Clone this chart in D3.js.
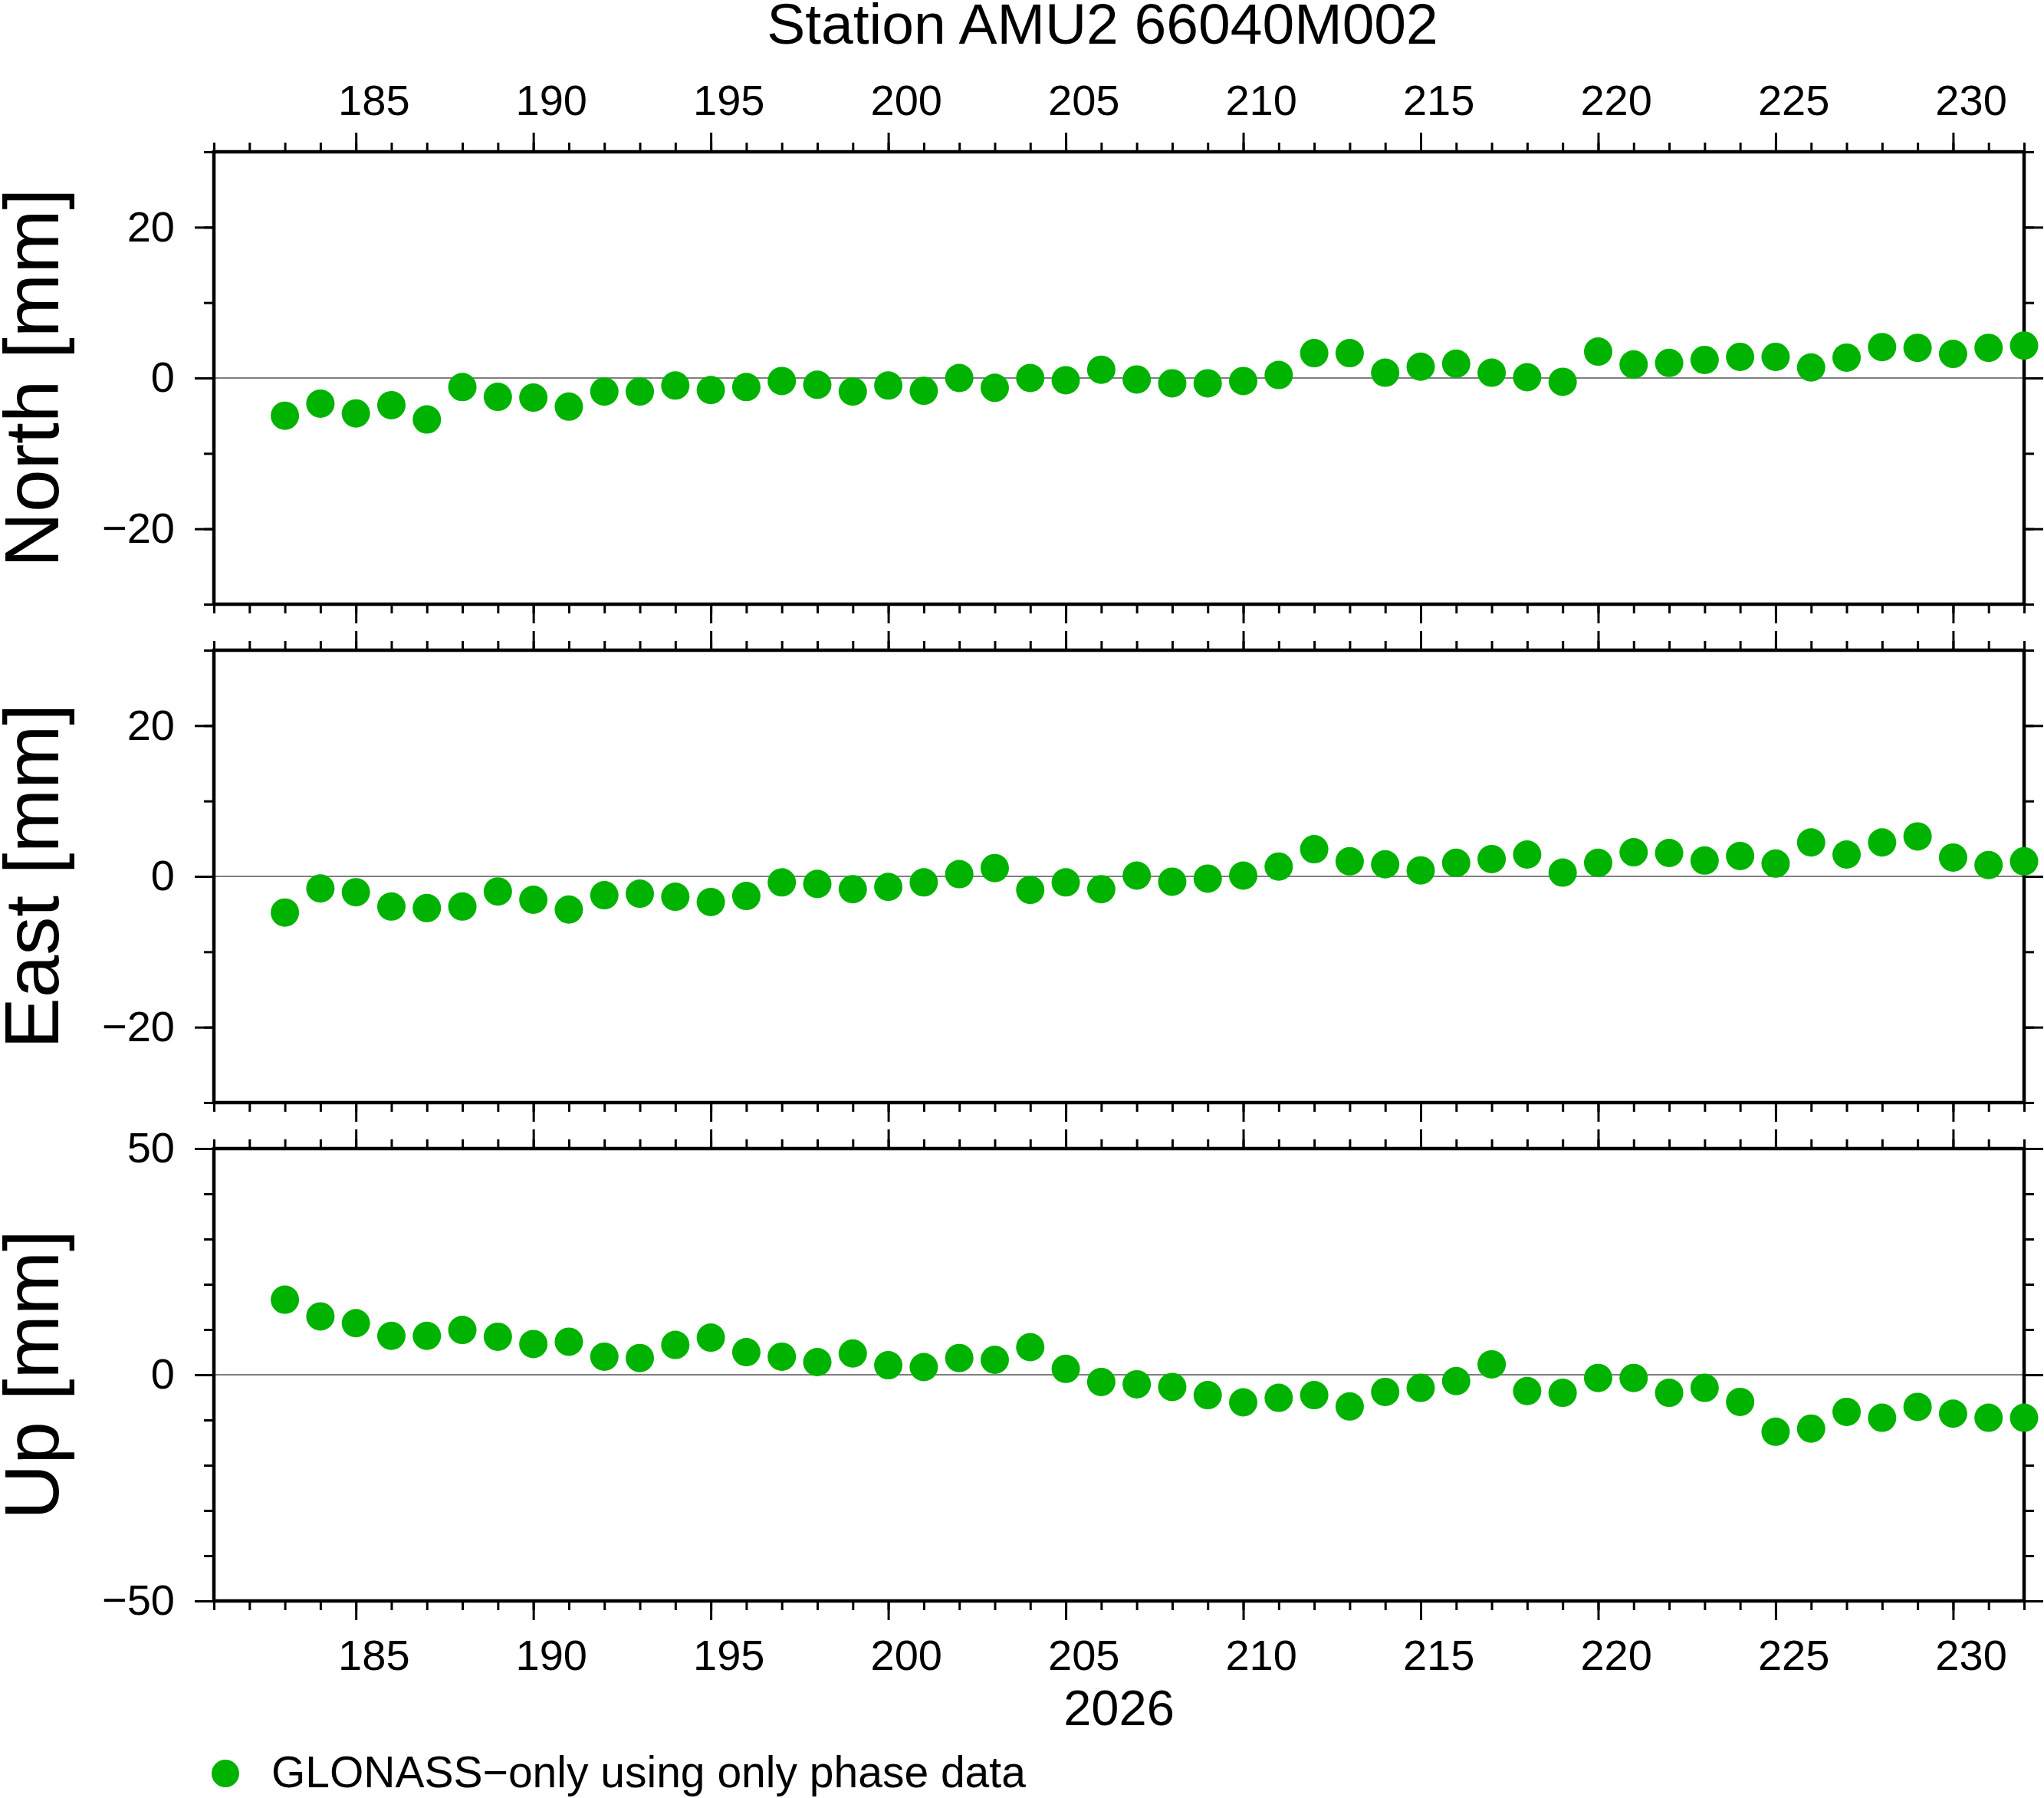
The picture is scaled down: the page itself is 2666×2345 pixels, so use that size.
<!DOCTYPE html>
<html>
<head>
<meta charset="utf-8">
<script src="https://d3js.org/d3.v7.min.js"></script>
<style>
  body { margin: 0; background: #fff; }
  svg { display: block; font-family: "Liberation Sans", Arial, Helvetica, sans-serif; }
  .axis path.domain { display: none; }
  .axis line { stroke: #000; stroke-width: 3px; }
  .axis text { font-size: 56px; fill: #000; font-family: "Liberation Sans", Arial, Helvetica, sans-serif; }
</style>
</head>
<body>
<div id="chart"></div>
<script>
// day of year 2026
var days = [183, 184, 185, 186, 187, 188, 189, 190, 191, 192,
            193, 194, 195, 196, 197, 198, 199, 200, 201, 202,
            203, 204, 205, 206, 207, 208, 209, 210, 211, 212,
            213, 214, 215, 216, 217, 218, 219, 220, 221, 222,
            223, 224, 225, 226, 227, 228, 229, 230, 231, 232];

// residuals in mm
var north = [-5.0, -3.4, -4.7, -3.6, -5.5, -1.2, -2.5, -2.6, -3.8, -1.8,
             -1.8, -1.0, -1.6, -1.2, -0.4, -0.9, -1.8, -1.0, -1.7, 0.0,
             -1.3, 0.0, -0.3, 1.1, -0.2, -0.7, -0.7, -0.4, 0.4, 3.3,
             3.3, 0.7, 1.5, 1.9, 0.7, 0.1, -0.5, 3.5, 1.8, 2.0,
             2.4, 2.8, 2.8, 1.4, 2.7, 4.1, 4.0, 3.2, 4.0, 4.3];

var east = [-4.8, -1.6, -2.1, -4.0, -4.2, -4.0, -2.0, -3.1, -4.4, -2.5,
            -2.3, -2.7, -3.4, -2.6, -0.8, -1.0, -1.7, -1.4, -0.8, 0.3,
            1.1, -1.8, -0.8, -1.7, 0.1, -0.7, -0.3, 0.1, 1.3, 3.6,
            2.0, 1.6, 0.8, 1.8, 2.3, 2.9, 0.5, 1.8, 3.2, 3.1,
            2.1, 2.7, 1.7, 4.5, 2.9, 4.5, 5.3, 2.5, 1.5, 2.0];

var up = [16.6, 12.9, 11.4, 8.6, 8.6, 9.9, 8.4, 6.8, 7.3, 4.0,
          3.7, 6.6, 8.2, 5.0, 4.0, 2.8, 4.7, 2.1, 1.7, 3.7,
          3.3, 6.1, 1.3, -1.6, -2.1, -2.7, -4.5, -6.1, -5.1, -4.5,
          -7.0, -3.8, -2.9, -1.4, 2.3, -3.6, -4.0, -0.7, -0.7, -4.0,
          -2.9, -6.0, -12.6, -11.9, -8.2, -9.5, -7.1, -8.6, -9.5, -9.5];

var xTickLabels = [185, 190, 195, 200, 205, 210, 215, 220, 225, 230];
var neTickLabels = [-20, 0, 20];
var upTickLabels = [-50, 0, 50];

var title = "Station AMU2 66040M002";
var yearLabel = "2026";
var legendLabel = "GLONASS\u2212only using only phase data";
var dotColor = "#00b300";

var W = 2666, H = 2345;
var left = 279, right = 2640;
var panelH = 590, gap = 60, top0 = 198;

var svg = d3.select("#chart").append("svg")
  .attr("width", W).attr("height", H);
svg.append("rect").attr("width", W).attr("height", H).attr("fill", "#fff");

var x = d3.scaleLinear().domain([181, 232]).range([left, right]);
var minorDays = d3.range(181, 233);
// day labels sit in the middle of their day
var halfDay = (x(182) - x(181)) / 2;

var panels = [
  { name: "North [mm]", values: north, domain: [-30, 30], major: neTickLabels, minor: d3.range(-30, 31, 10) },
  { name: "East [mm]", values: east, domain: [-30, 30], major: neTickLabels, minor: d3.range(-30, 31, 10) },
  { name: "Up [mm]", values: up, domain: [-50, 50], major: upTickLabels, minor: d3.range(-50, 51, 10) }
];

function fmt(d) { return d < 0 ? "\u2212" + Math.abs(d) : String(d); }

panels.forEach(function(p, i) {
  var y0 = top0 + i * (panelH + gap);
  var y = d3.scaleLinear().domain(p.domain).range([y0 + panelH, y0]);
  var g = svg.append("g");

  // x ticks, top and bottom
  g.append("g").attr("class", "axis").attr("transform", "translate(0," + y0 + ")")
    .call(d3.axisTop(x).tickValues(minorDays).tickSize(12).tickFormat(""));
  g.append("g").attr("class", "axis").attr("transform", "translate(0," + (y0 + panelH) + ")")
    .call(d3.axisBottom(x).tickValues(minorDays).tickSize(12).tickFormat(""));
  g.append("g").attr("class", "axis").attr("transform", "translate(0," + y0 + ")")
    .call(d3.axisTop(x).tickValues(xTickLabels).tickSize(25).tickPadding(23)
      .tickFormat(i === 0 ? d3.format("d") : ""))
    .selectAll("text").attr("dx", halfDay);
  g.append("g").attr("class", "axis").attr("transform", "translate(0," + (y0 + panelH) + ")")
    .call(d3.axisBottom(x).tickValues(xTickLabels).tickSize(25).tickPadding(25)
      .tickFormat(i === 2 ? d3.format("d") : ""))
    .selectAll("text").attr("dx", halfDay);

  // y ticks, left and right
  g.append("g").attr("class", "axis").attr("transform", "translate(" + left + ",0)")
    .call(d3.axisLeft(y).tickValues(p.minor).tickSize(13).tickFormat(""));
  g.append("g").attr("class", "axis").attr("transform", "translate(" + left + ",0)")
    .call(d3.axisLeft(y).tickValues(p.major).tickSize(25).tickPadding(26).tickFormat(fmt));
  g.append("g").attr("class", "axis").attr("transform", "translate(" + right + ",0)")
    .call(d3.axisRight(y).tickValues(p.minor).tickSize(13).tickFormat(""));
  g.append("g").attr("class", "axis").attr("transform", "translate(" + right + ",0)")
    .call(d3.axisRight(y).tickValues(p.major).tickSize(25).tickFormat(""));

  // zero line
  g.append("line")
    .attr("x1", left).attr("x2", right)
    .attr("y1", y(0)).attr("y2", y(0))
    .attr("stroke", "#000").attr("stroke-width", 1.2);

  // frame
  g.append("rect")
    .attr("x", left).attr("y", y0)
    .attr("width", right - left).attr("height", panelH)
    .attr("fill", "none").attr("stroke", "#000").attr("stroke-width", 4.5);

  // points
  g.selectAll("circle.pt")
    .data(p.values)
    .enter().append("circle")
    .attr("class", "pt")
    .attr("cx", function(d, k) { return x(days[k]); })
    .attr("cy", function(d) { return y(d); })
    .attr("r", 18.5)
    .attr("fill", dotColor);

  // y label
  svg.append("text")
    .attr("transform", "translate(76," + (y0 + panelH / 2) + ") rotate(-90)")
    .attr("text-anchor", "middle")
    .attr("font-size", 100)
    .text(p.name);
});

svg.append("text")
  .attr("x", 1438).attr("y", 57)
  .attr("text-anchor", "middle")
  .attr("font-size", 75)
  .text(title);

svg.append("text")
  .attr("x", (left + right) / 2).attr("y", 2250)
  .attr("text-anchor", "middle")
  .attr("font-size", 65)
  .text(yearLabel);

svg.append("circle")
  .attr("cx", 294).attr("cy", 2313).attr("r", 18)
  .attr("fill", dotColor);
svg.append("text")
  .attr("x", 354).attr("y", 2331)
  .attr("font-size", 57)
  .text(legendLabel);
</script>
</body>
</html>
